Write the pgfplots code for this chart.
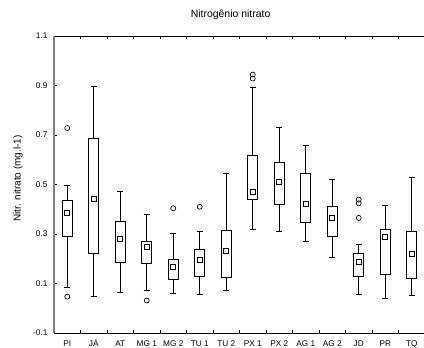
\documentclass[border=0pt]{standalone}
\usepackage{fontspec}
\setmainfont{Liberation Sans}
\usepackage{pgfplots}
\pgfplotsset{compat=1.18}
\usepgfplotslibrary{statistics}
\begin{document}
\begin{tikzpicture}
\begin{axis}[
  at={(0,0)}, anchor=south west,
  scale only axis,
  width=371bp, height=297bp,
  xmin=-0.5, xmax=13.5,
  ymin=-0.1, ymax=1.1,
  axis x line=box,
  axis y line=left,
  x axis line style={-, black, line width=0.8bp},
  y axis line style={-, gray, line width=1.6bp},
  tick align=inside,
  xtick={0,...,13},
  xticklabels={PI,JÁ,AT,MG 1,MG 2,TU 1,TU 2,PX 1,PX 2,AG 1,AG 2,JD,PR,TQ},
  major x tick style={draw=none},
  minor xtick={0.5,1.5,...,12.5},
  minor tick length=3bp,
  minor x tick style={black, line width=0.8bp},
  ytick={-0.1,0.1,0.3,0.5,0.7,0.9,1.1},
  yticklabels={-0.1,0.1,0.3,0.5,0.7,0.9,1.1},
  major tick length=3bp,
  y tick style={black, line width=0.8bp},
  /pgf/number format/assume math mode=true,
  tick label style={font=\fontsize{8.3}{10}\selectfont},
  xticklabel style={anchor=base, yshift=-13.5bp},
  yticklabel style={xshift=-3bp},
  title={Nitrogênio nitrato},
  title style={font=\fontsize{10.5}{12}\selectfont, at={(rel axis cs:0.476,1)}, anchor=base, yshift=12.5bp},
  ylabel={Nitr. nitrato (mg.l-1)},
  every axis y label/.style={at={(rel axis cs:0,0.52)}, xshift=-36bp, rotate=90, anchor=center, font=\fontsize{10}{12}\selectfont},
  boxplot/draw direction=y,
  boxplot/box extend=0.38,
  boxplot/whisker extend=0.23,
  boxplot/draw/median/.code={},
  clip=false,
]
\addplot[black, line width=0.8bp, boxplot prepared={draw position=0, lower whisker=0.085, lower quartile=0.292, median=0.384, upper quartile=0.436, upper whisker=0.498}] coordinates {};
\addplot[black, line width=0.8bp, boxplot prepared={draw position=1, lower whisker=0.049, lower quartile=0.222, median=0.441, upper quartile=0.687, upper whisker=0.895}] coordinates {};
\addplot[black, line width=0.8bp, boxplot prepared={draw position=2, lower whisker=0.064, lower quartile=0.185, median=0.281, upper quartile=0.350, upper whisker=0.471}] coordinates {};
\addplot[black, line width=0.8bp, boxplot prepared={draw position=3, lower whisker=0.074, lower quartile=0.180, median=0.249, upper quartile=0.270, upper whisker=0.378}] coordinates {};
\addplot[black, line width=0.8bp, boxplot prepared={draw position=4, lower whisker=0.060, lower quartile=0.117, median=0.169, upper quartile=0.196, upper whisker=0.301}] coordinates {};
\addplot[black, line width=0.8bp, boxplot prepared={draw position=5, lower whisker=0.055, lower quartile=0.128, median=0.195, upper quartile=0.238, upper whisker=0.309}] coordinates {};
\addplot[black, line width=0.8bp, boxplot prepared={draw position=6, lower whisker=0.071, lower quartile=0.125, median=0.231, upper quartile=0.316, upper whisker=0.545}] coordinates {};
\addplot[black, line width=0.8bp, boxplot prepared={draw position=7, lower whisker=0.319, lower quartile=0.440, median=0.470, upper quartile=0.619, upper whisker=0.891}] coordinates {};
\addplot[black, line width=0.8bp, boxplot prepared={draw position=8, lower whisker=0.309, lower quartile=0.421, median=0.509, upper quartile=0.590, upper whisker=0.730}] coordinates {};
\addplot[black, line width=0.8bp, boxplot prepared={draw position=9, lower whisker=0.272, lower quartile=0.347, median=0.421, upper quartile=0.546, upper whisker=0.657}] coordinates {};
\addplot[black, line width=0.8bp, boxplot prepared={draw position=10, lower whisker=0.207, lower quartile=0.291, median=0.366, upper quartile=0.412, upper whisker=0.520}] coordinates {};
\addplot[black, line width=0.8bp, boxplot prepared={draw position=11, lower whisker=0.056, lower quartile=0.128, median=0.188, upper quartile=0.220, upper whisker=0.257}] coordinates {};
\addplot[black, line width=0.8bp, boxplot prepared={draw position=12, lower whisker=0.039, lower quartile=0.138, median=0.287, upper quartile=0.320, upper whisker=0.417}] coordinates {};
\addplot[black, line width=0.8bp, boxplot prepared={draw position=13, lower whisker=0.051, lower quartile=0.120, median=0.218, upper quartile=0.311, upper whisker=0.528}] coordinates {};
% means
\addplot[only marks, mark=square, mark size=2.5bp, mark options={black, line width=0.8bp, fill=white}] coordinates {
  (0,0.384) (1,0.441) (2,0.281) (3,0.249) (4,0.169) (5,0.195) (6,0.231)
  (7,0.470) (8,0.509) (9,0.421) (10,0.366) (11,0.188) (12,0.287) (13,0.218)};
% outliers
\addplot[only marks, mark=o, mark size=2.5bp, mark options={black, line width=0.7bp}] coordinates {
  (0,0.728) (0,0.047) (3,0.031) (4,0.404) (5,0.410)
  (7,0.944) (7,0.928) (11,0.439) (11,0.424) (11,0.365)};
\end{axis}
\pgfresetboundingbox
\path[use as bounding box] (-54bp,-15bp) rectangle (370bp,333bp);
\end{tikzpicture}
\end{document}
